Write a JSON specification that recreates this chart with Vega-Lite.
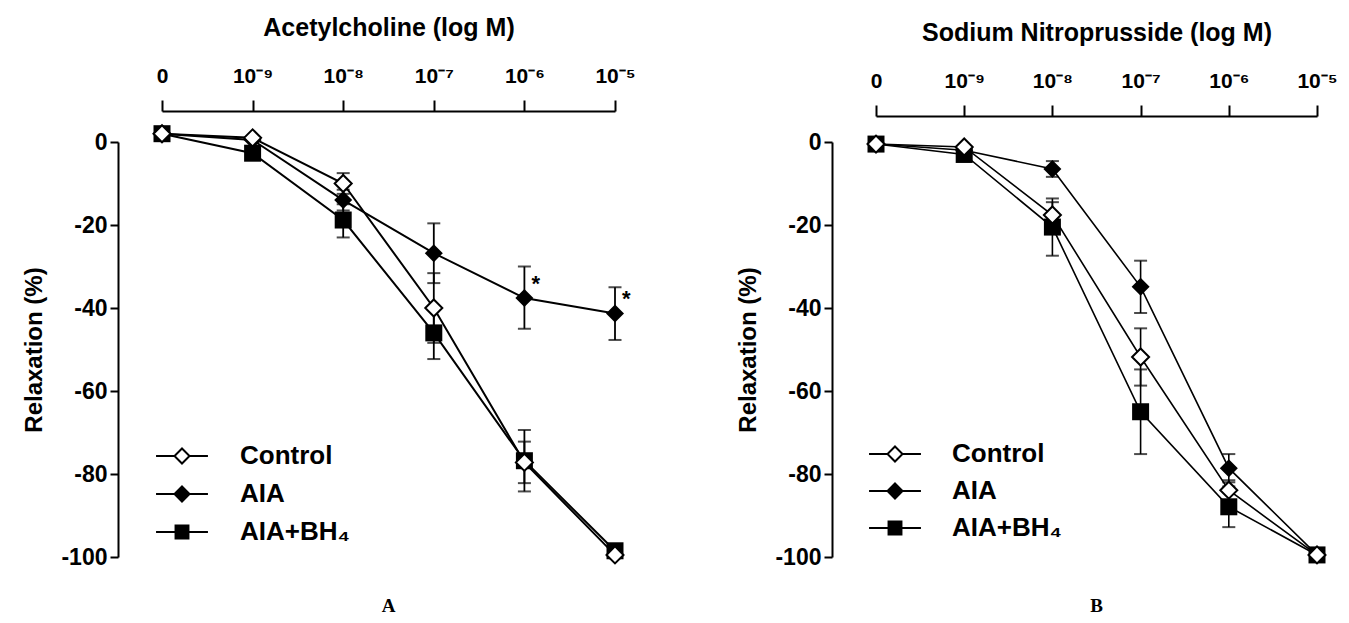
{
  "$schema": "https://vega.github.io/schema/vega-lite/v6.json",
  "background": "white",
  "padding": {"left": 22, "top": 15, "right": 5, "bottom": 5},
  "datasets": {
    "a": [
      {"conc": 0, "series": "Control", "mean": 2},
      {"conc": 1, "series": "Control", "mean": 1},
      {"conc": 2, "series": "Control", "mean": -10, "lo": -12.5, "hi": -7.5},
      {"conc": 3, "series": "Control", "mean": -40, "lo": -48.4, "hi": -31.6},
      {"conc": 4, "series": "Control", "mean": -77.2, "lo": -82.2, "hi": -72.2},
      {"conc": 5, "series": "Control", "mean": -99.5},
      {"conc": 0, "series": "AIA", "mean": 2},
      {"conc": 1, "series": "AIA", "mean": 0.5},
      {"conc": 2, "series": "AIA", "mean": -14, "lo": -16.5, "hi": -11.5},
      {"conc": 3, "series": "AIA", "mean": -26.8, "lo": -34, "hi": -19.6},
      {"conc": 4, "series": "AIA", "mean": -37.6, "lo": -45, "hi": -30, "sig": "*"},
      {"conc": 5, "series": "AIA", "mean": -41.3, "lo": -47.7, "hi": -35, "sig": "*"},
      {"conc": 0, "series": "AIA+BH₄", "mean": 2},
      {"conc": 1, "series": "AIA+BH₄", "mean": -2.7},
      {"conc": 2, "series": "AIA+BH₄", "mean": -18.8, "lo": -23, "hi": -15},
      {"conc": 3, "series": "AIA+BH₄", "mean": -46, "lo": -52.3, "hi": -39.7},
      {"conc": 4, "series": "AIA+BH₄", "mean": -76.8, "lo": -84.2, "hi": -69.4},
      {"conc": 5, "series": "AIA+BH₄", "mean": -98.5}
    ],
    "b": [
      {"conc": 0, "series": "Control", "mean": -0.5},
      {"conc": 1, "series": "Control", "mean": -1.2},
      {"conc": 2, "series": "Control", "mean": -17.6, "lo": -20.7, "hi": -14.5},
      {"conc": 3, "series": "Control", "mean": -51.8, "lo": -58.7, "hi": -44.9},
      {"conc": 4, "series": "Control", "mean": -83.9, "lo": -86.3, "hi": -81.5},
      {"conc": 5, "series": "Control", "mean": -99.5},
      {"conc": 0, "series": "AIA", "mean": -0.5},
      {"conc": 1, "series": "AIA", "mean": -2},
      {"conc": 2, "series": "AIA", "mean": -6.5, "lo": -8.4, "hi": -4.6},
      {"conc": 3, "series": "AIA", "mean": -34.9, "lo": -41.2, "hi": -28.6},
      {"conc": 4, "series": "AIA", "mean": -78.6, "lo": -82, "hi": -75.2},
      {"conc": 5, "series": "AIA", "mean": -99.5},
      {"conc": 0, "series": "AIA+BH₄", "mean": -0.5},
      {"conc": 1, "series": "AIA+BH₄", "mean": -3},
      {"conc": 2, "series": "AIA+BH₄", "mean": -20.5, "lo": -27.4, "hi": -13.6},
      {"conc": 3, "series": "AIA+BH₄", "mean": -65, "lo": -75.2, "hi": -54.8},
      {"conc": 4, "series": "AIA+BH₄", "mean": -87.9, "lo": -92.8, "hi": -83},
      {"conc": 5, "series": "AIA+BH₄", "mean": -99.5}
    ]
  },
  "spacing": 100,
  "resolve": {
    "scale": {"shape": "independent", "fill": "independent", "stroke": "independent"},
    "legend": {"shape": "independent", "fill": "independent", "stroke": "independent"}
  },
  "hconcat": [
    {
      "width": 453,
      "height": 415,
      "data": {"name": "a"},
      "title": {"text": "A", "orient": "bottom", "font": "Liberation Serif", "fontSize": 19, "fontWeight": "bold", "offset": 28, "color": "black"},
      "encoding": {
        "x": {
          "field": "conc", "type": "quantitative",
          "scale": {"domain": [0, 5], "nice": false, "zero": false},
          "axis": {
            "orient": "top", "offset": 31, "values": [0, 1, 2, 3, 4, 5],
            "labelExpr": "['0','10⁻⁹','10⁻⁸','10⁻⁷','10⁻⁶','10⁻⁵'][datum.value]",
            "title": "Acetylcholine (log M)"
          }
        }
      },
      "layer": [
        {
          "mark": {"type": "line", "color": "black", "strokeWidth": 2},
          "encoding": {
            "y": {"field": "mean", "type": "quantitative", "scale": {"domain": [-100, 0], "nice": false}, "title": "Relaxation (%)",
                  "axis": {"values": [0, -20, -40, -60, -80, -100], "offset": 44, "labelExpr": "'' + datum.value"}},
            "detail": {"field": "series"}
          }
        },
        {
          "transform": [{"filter": "isValid(datum.lo)"}],
          "mark": {"type": "rule", "color": "black", "strokeWidth": 1.8},
          "encoding": {
            "y": {"field": "lo", "type": "quantitative", "title": "Relaxation (%)"},
            "y2": {"field": "hi"}
          }
        },
        {
          "transform": [{"filter": "isValid(datum.lo)"}],
          "mark": {"type": "tick", "orient": "horizontal", "color": "black", "size": 13, "thickness": 2},
          "encoding": {"y": {"field": "lo", "type": "quantitative", "title": "Relaxation (%)"}}
        },
        {
          "transform": [{"filter": "isValid(datum.hi)"}],
          "mark": {"type": "tick", "orient": "horizontal", "color": "black", "size": 13, "thickness": 2},
          "encoding": {"y": {"field": "hi", "type": "quantitative", "title": "Relaxation (%)"}}
        },
        {
          "transform": [{"filter": "datum.series === 'AIA+BH₄'"}],
          "mark": {"type": "point", "shape": "square", "filled": true, "color": "black", "size": 289, "opacity": 1},
          "encoding": {"y": {"field": "mean", "type": "quantitative", "title": "Relaxation (%)"}}
        },
        {
          "transform": [{"filter": "datum.series === 'AIA'"}],
          "mark": {"type": "point", "shape": "diamond", "filled": true, "color": "black", "size": 324, "opacity": 1},
          "encoding": {"y": {"field": "mean", "type": "quantitative", "title": "Relaxation (%)"}}
        },
        {
          "transform": [{"filter": "datum.series === 'Control'"}],
          "mark": {"type": "point", "shape": "diamond", "filled": false, "fill": "white", "stroke": "black", "strokeWidth": 2, "size": 290, "opacity": 1},
          "encoding": {"y": {"field": "mean", "type": "quantitative", "title": "Relaxation (%)"}}
        },
        {
          "transform": [{"filter": "isValid(datum.sig)"}],
          "mark": {"type": "text", "color": "black", "font": "Liberation Sans", "fontWeight": "bold", "fontSize": 22, "dx": 7, "dy": -7, "align": "left", "baseline": "alphabetic"},
          "encoding": {
            "y": {"field": "mean", "type": "quantitative", "title": "Relaxation (%)"},
            "text": {"field": "sig"}
          }
        },
        {
          "transform": [{"filter": "datum.conc < 0"}],
          "mark": {"type": "point", "filled": false, "color": "black", "strokeWidth": 2, "opacity": 1},
          "encoding": {
            "y": {"field": "mean", "type": "quantitative", "title": "Relaxation (%)"},
            "shape": {
              "field": "series", "type": "nominal",
              "scale": {"domain": ["Control", "AIA", "AIA+BH₄"], "range": ["M-1.73,0H-0.5M0.5,0H1.73M0,-0.5L0.5,0L0,0.5L-0.5,0Z", "M-1.73,0H-0.5M0.5,0H1.73M0,-0.5L0.5,0L0,0.5L-0.5,0Z", "M-1.73,0H-0.43M0.43,0H1.73M-0.43,-0.43H0.43V0.43H-0.43Z"]},
              "legend": {"orient": "none", "legendX": 4, "legendY": 298, "title": null, "symbolSize": 900, "labelOffset": 42, "rowPadding": 9, "labelFont": "Liberation Sans", "labelFontSize": 26, "labelFontWeight": "bold", "labelColor": "black", "symbolStrokeWidth": 2, "symbolOpacity": 1}
            },
            "fill": {
              "field": "series", "type": "nominal",
              "scale": {"domain": ["Control", "AIA", "AIA+BH₄"], "range": ["white", "black", "black"]},
              "legend": {"orient": "none", "legendX": 4, "legendY": 298, "title": null, "symbolSize": 900, "labelOffset": 42, "rowPadding": 9, "labelFont": "Liberation Sans", "labelFontSize": 26, "labelFontWeight": "bold", "labelColor": "black", "symbolStrokeWidth": 2, "symbolOpacity": 1}
            },
            "stroke": {
              "field": "series", "type": "nominal",
              "scale": {"domain": ["Control", "AIA", "AIA+BH₄"], "range": ["black", "black", "black"]},
              "legend": {"orient": "none", "legendX": 4, "legendY": 298, "title": null, "symbolSize": 900, "labelOffset": 42, "rowPadding": 9, "labelFont": "Liberation Sans", "labelFontSize": 26, "labelFontWeight": "bold", "labelColor": "black", "symbolStrokeWidth": 2, "symbolOpacity": 1}
            }
          }
        }
      ]
    },
    {
      "width": 441,
      "height": 415,
      "data": {"name": "b"},
      "title": {"text": "B", "orient": "bottom", "font": "Liberation Serif", "fontSize": 19, "fontWeight": "bold", "offset": 28, "color": "black"},
      "encoding": {
        "x": {
          "field": "conc", "type": "quantitative",
          "scale": {"domain": [0, 5], "nice": false, "zero": false},
          "axis": {
            "orient": "top", "offset": 26, "values": [0, 1, 2, 3, 4, 5],
            "labelExpr": "['0','10⁻⁹','10⁻⁸','10⁻⁷','10⁻⁶','10⁻⁵'][datum.value]",
            "title": "Sodium Nitroprusside (log M)"
          }
        }
      },
      "layer": [
        {
          "mark": {"type": "line", "color": "black", "strokeWidth": 1.6},
          "encoding": {
            "y": {"field": "mean", "type": "quantitative", "scale": {"domain": [-100, 0], "nice": false}, "title": "Relaxation (%)",
                  "axis": {"values": [0, -20, -40, -60, -80, -100], "offset": 44, "labelExpr": "'' + datum.value"}},
            "detail": {"field": "series"}
          }
        },
        {
          "transform": [{"filter": "isValid(datum.lo)"}],
          "mark": {"type": "rule", "color": "black", "strokeWidth": 1.6},
          "encoding": {
            "y": {"field": "lo", "type": "quantitative", "title": "Relaxation (%)"},
            "y2": {"field": "hi"}
          }
        },
        {
          "transform": [{"filter": "isValid(datum.lo)"}],
          "mark": {"type": "tick", "orient": "horizontal", "color": "black", "size": 13, "thickness": 2},
          "encoding": {"y": {"field": "lo", "type": "quantitative", "title": "Relaxation (%)"}}
        },
        {
          "transform": [{"filter": "isValid(datum.hi)"}],
          "mark": {"type": "tick", "orient": "horizontal", "color": "black", "size": 13, "thickness": 2},
          "encoding": {"y": {"field": "hi", "type": "quantitative", "title": "Relaxation (%)"}}
        },
        {
          "transform": [{"filter": "datum.series === 'AIA+BH₄'"}],
          "mark": {"type": "point", "shape": "square", "filled": true, "color": "black", "size": 289, "opacity": 1},
          "encoding": {"y": {"field": "mean", "type": "quantitative", "title": "Relaxation (%)"}}
        },
        {
          "transform": [{"filter": "datum.series === 'AIA'"}],
          "mark": {"type": "point", "shape": "diamond", "filled": true, "color": "black", "size": 324, "opacity": 1},
          "encoding": {"y": {"field": "mean", "type": "quantitative", "title": "Relaxation (%)"}}
        },
        {
          "transform": [{"filter": "datum.series === 'Control'"}],
          "mark": {"type": "point", "shape": "diamond", "filled": false, "fill": "white", "stroke": "black", "strokeWidth": 2, "size": 290, "opacity": 1},
          "encoding": {"y": {"field": "mean", "type": "quantitative", "title": "Relaxation (%)"}}
        },
        {
          "transform": [{"filter": "datum.conc < 0"}],
          "mark": {"type": "point", "filled": false, "color": "black", "strokeWidth": 2, "opacity": 1},
          "encoding": {
            "y": {"field": "mean", "type": "quantitative", "title": "Relaxation (%)"},
            "shape": {
              "field": "series", "type": "nominal",
              "scale": {"domain": ["Control", "AIA", "AIA+BH₄"], "range": ["M-1.73,0H-0.5M0.5,0H1.73M0,-0.5L0.5,0L0,0.5L-0.5,0Z", "M-1.73,0H-0.5M0.5,0H1.73M0,-0.5L0.5,0L0,0.5L-0.5,0Z", "M-1.73,0H-0.43M0.43,0H1.73M-0.43,-0.43H0.43V0.43H-0.43Z"]},
              "legend": {"orient": "none", "legendX": 3, "legendY": 296, "title": null, "symbolSize": 900, "labelOffset": 41, "rowPadding": 8, "labelFont": "Liberation Sans", "labelFontSize": 26, "labelFontWeight": "bold", "labelColor": "black", "symbolStrokeWidth": 2, "symbolOpacity": 1}
            },
            "fill": {
              "field": "series", "type": "nominal",
              "scale": {"domain": ["Control", "AIA", "AIA+BH₄"], "range": ["white", "black", "black"]},
              "legend": {"orient": "none", "legendX": 3, "legendY": 296, "title": null, "symbolSize": 900, "labelOffset": 41, "rowPadding": 8, "labelFont": "Liberation Sans", "labelFontSize": 26, "labelFontWeight": "bold", "labelColor": "black", "symbolStrokeWidth": 2, "symbolOpacity": 1}
            },
            "stroke": {
              "field": "series", "type": "nominal",
              "scale": {"domain": ["Control", "AIA", "AIA+BH₄"], "range": ["black", "black", "black"]},
              "legend": {"orient": "none", "legendX": 3, "legendY": 296, "title": null, "symbolSize": 900, "labelOffset": 41, "rowPadding": 8, "labelFont": "Liberation Sans", "labelFontSize": 26, "labelFontWeight": "bold", "labelColor": "black", "symbolStrokeWidth": 2, "symbolOpacity": 1}
            }
          }
        }
      ]
    }
  ],
  "config": {
    "view": {"stroke": null},
    "font": "Liberation Sans",
    "axis": {
      "grid": false,
      "domainColor": "black",
      "domainWidth": 2,
      "tickColor": "black",
      "tickWidth": 2,
      "labelFont": "Liberation Sans",
      "labelFontWeight": "bold",
      "labelColor": "black",
      "titleFont": "Liberation Sans",
      "titleFontWeight": "bold",
      "titleColor": "black",
      "labelFlush": false
    },
    "axisX": {"tickSize": 11, "labelFontSize": 21, "labelPadding": 14, "titleFontSize": 25, "titlePadding": 25},
    "axisY": {"tickSize": 8, "labelFontSize": 23, "labelPadding": 3, "titleFontSize": 24, "titlePadding": 14}
  }
}
